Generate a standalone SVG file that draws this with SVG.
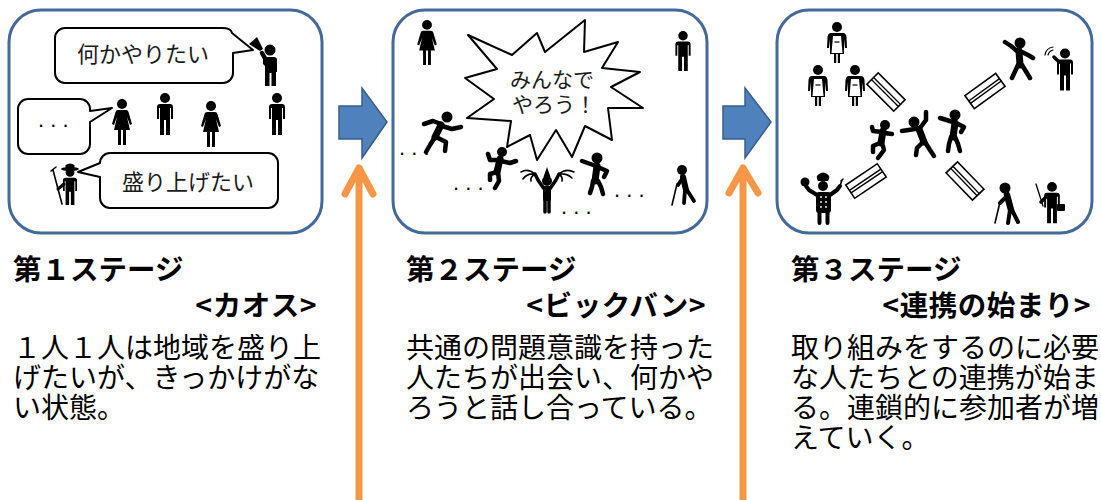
<svg xmlns="http://www.w3.org/2000/svg" width="1101" height="500" viewBox="0 0 1101 500">
  <style>
    .panel { fill:#fff; stroke:#44699B; stroke-width:3 }
    .bubble { fill:#fff; stroke:#000; stroke-width:2; stroke-linejoin:round }
    .ink { fill:#000 }
    .limb { fill:none; stroke:#000; stroke-width:4.5; stroke-linecap:round; stroke-linejoin:round }
    .torso { fill:none; stroke:#000; stroke-width:7; stroke-linecap:round; stroke-linejoin:round }
    .thin { fill:none; stroke:#000; stroke-width:1.6; stroke-linecap:round; stroke-linejoin:round }
    .bridge { fill:#fff; stroke:#000; stroke-width:1.6 }
    .say { font-family:'Noto Sans CJK JP', sans-serif; font-size:22px; fill:#1a1a1a; text-anchor:middle }
    .dots { font-family:'Liberation Sans', sans-serif; font-size:22px; fill:#000 }
    .head { font-family:'Noto Sans CJK JP', sans-serif; font-size:28.5px; font-weight:bold; fill:#000 }
    .sub { text-anchor:end; letter-spacing:0.5px }
    .body { font-family:'Noto Sans CJK JP', sans-serif; font-size:28px; fill:#000 }
    .blue { fill:#4F81BD; stroke:#385D8A; stroke-width:1.5; stroke-linejoin:miter }
    .orange { fill:none; stroke:#F79646; stroke-width:7; stroke-linecap:round; stroke-linejoin:round }
  </style>
  <defs>
    <!-- standing pictogram man, head top at 0, feet at 42 -->
    <g id="man">
      <circle cx="0" cy="5" r="5"/>
      <path d="M-8,14 A3,3 0 0 1 -5,11 H5 A3,3 0 0 1 8,14 V26 H6 V15 H5 V42 H1 V27 H-1 V42 H-5 V15 H-6 V26 H-8 Z"/>
    </g>
    <!-- standing pictogram woman, head top at 0, feet at 46 -->
    <g id="woman">
      <circle cx="0" cy="5" r="5"/>
      <path d="M-4,11 H4 Q6,11 6.5,13 L10,25 L8,26 L5,18 L8,31 H4 V46 H1 V31 H-1 V46 H-4 V31 H-8 L-5,18 L-8,26 L-10,25 L-6.5,13 Q-6,11 -4,11 Z"/>
    </g>
    <!-- woman wearing an apron, head top at 0, feet at 41 -->
    <g id="apron">
      <circle cx="0" cy="5" r="5"/>
      <path d="M-6,11 H6 Q9,11 9.5,15 L10,26 H8 L7,17 V32 H3 V41 H0.8 V32 H-0.8 V41 H-3 V32 H-7 V17 L-8,26 H-10 L-9.5,15 Q-9,11 -6,11 Z"/>
      <path d="M-4,14 H4 L5.5,31 H-5.5 Z" fill="#fff"/>
      <line x1="-2.5" y1="20" x2="2.5" y2="20" stroke="#000" stroke-width="1.2"/>
    </g>
    <!-- crossing bar between groups -->
    <g id="bar">
      <rect x="-19" y="-8" width="38" height="16" class="bridge"/>
      <line x1="-19" y1="-1.5" x2="19" y2="-1.5" stroke="#000" stroke-width="1.4"/>
      <line x1="-19" y1="1.5" x2="19" y2="1.5" stroke="#000" stroke-width="1.4"/>
    </g>
  </defs>

  <!-- stage 1: chaos -->
  <g id="stage1">
    <rect class="panel" x="9" y="10" width="313" height="223" rx="32"/>
    <path class="bubble" d="M65,28 H222 Q231,28 232,33 L253,50 L233,53 V73 A10,10 0 0 1 223,83 H65 A10,10 0 0 1 55,73 V38 A10,10 0 0 1 65,28 Z"/>
    <text class="say" x="143" y="62">何かやりたい</text>
    <path class="bubble" d="M28,99 H80 A10,10 0 0 1 90,109 V111 L112,108 L90,122 V144 A10,10 0 0 1 80,154 H28 A10,10 0 0 1 18,144 V109 A10,10 0 0 1 28,99 Z"/>
    <text class="dots" x="38" y="127">. . .</text>
    <path class="bubble" d="M110,153 H268 A10,10 0 0 1 278,163 V198 A10,10 0 0 1 268,208 H110 A10,10 0 0 1 100,198 V177 L78,172 L100,163 A10,10 0 0 1 110,153 Z"/>
    <text class="say" x="188" y="190">盛り上げたい</text>
    <g class="ink">
      <!-- man with megaphone -->
      <circle cx="270" cy="50" r="5.5"/>
      <path d="M263,60 A3,3 0 0 1 266,57 H274 A3,3 0 0 1 277,60 V72 H276 V86 H271.5 V73 H269.5 V86 H265 V66 L263,64 Z"/>
      <path class="limb" d="M266,60 L262,53"/>
      <polygon points="263,49 257,37 249,44 260,51"/>
      <use href="#woman" transform="translate(122,99)"/>
      <use href="#man" transform="translate(165,93)"/>
      <use href="#woman" transform="translate(211,101)"/>
      <use href="#man" transform="translate(277,93)"/>
      <!-- farmer with hoe -->
      <use href="#man" transform="translate(70,168) scale(0.88)"/>
      <ellipse cx="70" cy="169" rx="9" ry="2"/>
      <path d="M65.5,169 V165 Q70,162 74.5,165 V169 Z"/>
      <path class="thin" d="M53,170 L62,204 M51,171 L56,167"/>
      <path class="limb" d="M64,184 L58,189" style="stroke-width:3"/>
    </g>
  </g>

  <!-- stage 2: big bang -->
  <g id="stage2">
    <rect class="panel" x="393" y="10" width="314" height="223" rx="32"/>
    <polygon class="bubble" points="468,35 512,55 537,33 545,52 585,20 584,52 618,42 602,68 640,72 611,87 643,108 608,108 612,140 585,126 572,157 556,130 537,160 530,135 507,147 511,121 467,118 494,99 465,78 497,69"/>
    <text class="say" style="font-size:21px"><tspan x="552" y="87">みんなで</tspan><tspan x="554" y="112">やろう！</tspan></text>
    <g class="ink">
      <use href="#woman" transform="translate(427,20) scale(0.98)"/>
      <use href="#man" transform="translate(683,31) scale(0.95)"/>
      <!-- runner -->
      <circle cx="447" cy="117" r="5.5"/>
      <path class="torso" d="M441,125 L435,137"/>
      <path class="limb" d="M441,124 L433,121 L424,124 M442,126 L452,129 L461,127 M435,137 L430,145 L426,152 M436,137 L446,142 L445,151"/>
      <!-- kicker -->
      <circle cx="502" cy="152" r="5"/>
      <path class="torso" d="M500,159 L497,172"/>
      <path class="limb" d="M499,160 L490,160 L488,154 M501,161 L510,163 L516,161 M497,172 L490,174 L490,180 M498,172 L499,181 L495,188"/>
      <!-- cheerleader -->
      <circle cx="547" cy="181" r="5"/>
      <polygon points="543.5,177 550.5,177 547,167"/>
      <rect x="543" y="186" width="8" height="15" rx="2"/>
      <path class="limb" d="M543.5,188 L538,180 L535,174 M550.5,188 L556,180 L559,174 M545,200 V212 M549,200 V212" style="stroke-width:3.5"/>
      <path class="thin" d="M535,174 Q528,168 521,172 M535,174 Q527,173 523,179 M535,174 Q530,177 531,181 M559,174 Q566,168 574,172 M559,174 Q567,173 572,178 M559,174 Q563,177 562,181"/>
      <!-- pointer -->
      <circle cx="597" cy="158" r="5.5"/>
      <path class="torso" d="M597,166 L595,181"/>
      <path class="limb" d="M596,166 L582,161 M600,168 L607,171 L604,177 M593,181 L592,187 L590,193 M598,181 L601,187 L603,194"/>
      <!-- elder with cane -->
      <circle cx="682" cy="170" r="5"/>
      <path class="torso" d="M683,177 L686,190" style="stroke-width:6"/>
      <path class="limb" d="M682,179 L678,185 M685,190 L684,203 M687,190 L694,201" style="stroke-width:3.8"/>
      <path class="thin" d="M677,184 L672,205"/>
    </g>
    <text class="dots" x="399" y="155">. . .</text>
    <text class="dots" x="453" y="190">. . .</text>
    <text class="dots" x="561" y="214">. . .</text>
    <text class="dots" x="614" y="197">. . .</text>
  </g>

  <!-- stage 3: linking up -->
  <g id="stage3">
    <rect class="panel" x="777" y="10" width="315" height="223" rx="32"/>
    <use href="#bar" transform="translate(886,92) rotate(45)"/>
    <use href="#bar" transform="translate(985,91) rotate(-36)"/>
    <use href="#bar" transform="translate(866,181) rotate(-34)"/>
    <use href="#bar" transform="translate(965,181) rotate(46)"/>
    <g class="ink">
      <use href="#apron" transform="translate(837,22)"/>
      <use href="#apron" transform="translate(818,65)"/>
      <use href="#apron" transform="translate(855,65)"/>
      <!-- centre trio -->
      <circle cx="885" cy="125" r="5"/>
      <path class="torso" d="M883,131 L881,143"/>
      <path class="limb" d="M882,132 L873,131 L872,127 M884,133 L892,134 M880,143 L873,146 L873,152 M882,143 L884,150 L878,158"/>
      <circle cx="914" cy="122" r="5.5"/>
      <path class="torso" d="M919,129 L924,142"/>
      <path class="limb" d="M920,128 L926,120 L926,112 M915,129 L902,131 M923,142 L917,148 L916,155 M925,142 L930,150 L934,156"/>
      <circle cx="955" cy="115" r="5.5"/>
      <path class="torso" d="M955,123 L953,137"/>
      <path class="limb" d="M953,122 L940,118 M958,124 L964,127 L961,132 M951,137 L949,144 L948,151 M955,137 L958,144 L960,151"/>
      <!-- waving person -->
      <circle cx="1020" cy="43" r="5.5"/>
      <path class="torso" d="M1019,51 L1020,65"/>
      <path class="limb" d="M1017,51 L1011,46 L1005,42 M1022,52 L1028,55 L1033,58 M1018,65 L1012,78 M1022,65 L1030,78"/>
      <!-- man with phone -->
      <use href="#man" transform="translate(1065,48.5)"/>
      <path class="limb" d="M1059,62 L1054,57" style="stroke-width:3.5"/>
      <path class="thin" d="M1048,55 Q1049,51 1053,50 M1045,55 Q1046,48 1053,47" style="stroke-width:1.2"/>
      <!-- chef -->
      <path d="M818,181 Q815,176 819,174 Q823,171 827,174 Q831,176 828,181 Z"/>
      <circle cx="823" cy="186" r="5"/>
      <rect x="816" y="192" width="15" height="21" rx="3"/>
      <path class="limb" d="M817,195 L809,190 L806,186 M830,195 L837,190 L840,186 M819.5,212 V223 M827.5,212 V223" style="stroke-width:4"/>
      <circle cx="805" cy="182" r="4.5"/>
      <path class="thin" d="M840,186 L842,180 M841,181 L843,179"/>
      <g fill="#fff"><circle cx="821" cy="197" r="0.9"/><circle cx="826" cy="197" r="0.9"/><circle cx="821" cy="202" r="0.9"/><circle cx="826" cy="202" r="0.9"/><circle cx="821" cy="207" r="0.9"/><circle cx="826" cy="207" r="0.9"/></g>
      <!-- elder with cane -->
      <circle cx="1005" cy="188" r="5.5"/>
      <path class="torso" d="M1007,195 L1011,210" style="stroke-width:6.5"/>
      <path class="limb" d="M1005,198 L1000,203 M1010,210 L1008,223 M1012,210 L1018,222" style="stroke-width:4"/>
      <path class="thin" d="M1000,202 L995,223"/>
      <!-- man with pointer and bag -->
      <use href="#man" transform="translate(1052,182) scale(0.98)"/>
      <path class="limb" d="M1046,197 L1041,202" style="stroke-width:3.5"/>
      <path class="thin" d="M1036,184 L1043,206" style="stroke-width:1.3"/>
      <rect x="1057" y="204" width="8" height="7" rx="1"/>
    </g>
  </g>

  <!-- captions -->
  <g id="caption1">
    <text class="head"><tspan x="13" y="280">第１ステージ</tspan><tspan class="sub" x="317" y="316">&lt;カオス&gt;</tspan></text>
    <text class="body"><tspan x="13" y="358">１人１人は地域を盛り上</tspan><tspan x="13" y="388">げたいが、きっかけがな</tspan><tspan x="13" y="418">い状態。</tspan></text>
  </g>
  <g id="caption2">
    <text class="head"><tspan x="406" y="280">第２ステージ</tspan><tspan class="sub" x="706" y="316">&lt;ビックバン&gt;</tspan></text>
    <text class="body"><tspan x="406" y="358">共通の問題意識を持った</tspan><tspan x="406" y="388">人たちが出会い、何かや</tspan><tspan x="406" y="418">ろうと話し合っている。</tspan></text>
  </g>
  <g id="caption3">
    <text class="head"><tspan x="791" y="280">第３ステージ</tspan><tspan class="sub" x="1091" y="316">&lt;連携の始まり&gt;</tspan></text>
    <text class="body"><tspan x="791" y="358">取り組みをするのに必要</tspan><tspan x="791" y="388">な人たちとの連携が始ま</tspan><tspan x="791" y="418">る。連鎖的に参加者が増</tspan><tspan x="791" y="448">えていく。</tspan></text>
  </g>

  <!-- connectors -->
  <g id="connectors">
    <polygon class="blue" points="339,106 362,106 362,88 387,122 362,158 362,139 339,139"/>
    <polygon class="blue" points="723,106 745,106 745,88 771,122 745,158 745,139 723,139"/>
    <path class="orange" d="M359,500 V168 M345,194 L359,168 L373,194"/>
    <path class="orange" d="M743,500 V168 M729,193 L743,168 L758,193"/>
  </g>
</svg>
